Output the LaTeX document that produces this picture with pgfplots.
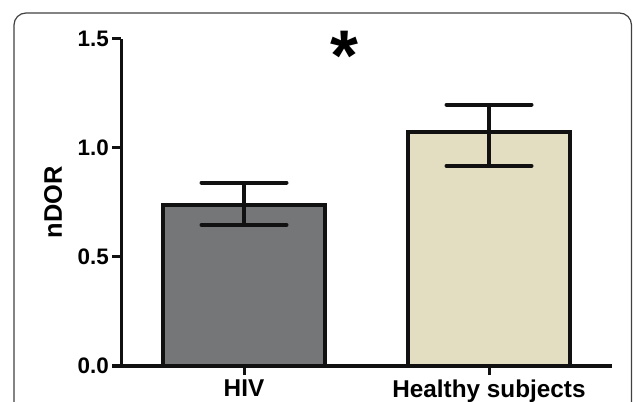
\documentclass[border=0pt]{standalone}
\usepackage{fontspec}
\setmainfont{Liberation Sans}
\usepackage{pgfplots}
\pgfplotsset{compat=1.18}
\definecolor{hivgray}{HTML}{747677}
\definecolor{beige}{HTML}{E3DEC1}
\definecolor{edge}{HTML}{111111}
\begin{document}
\begin{tikzpicture}
\useasboundingbox (0,0) rectangle (633bp,402bp);
\begin{scope}
\clip (0,0) rectangle (633bp,402bp);
\draw[rounded corners=12bp, black!75, line width=1.2bp] (14bp,-30bp) rectangle (631.5bp,389bp);
\end{scope}
\begin{axis}[
  at={(244bp,36bp)}, anchor=origin,
  x=245bp, y=218.3bp,
  xmin=-0.502, xmax=1.502, ymin=0, ymax=1.5,
  axis x line*=bottom, axis y line*=left,
  axis line style={line width=3bp, edge, -},
  xtick={0,1}, xticklabels={HIV,Healthy subjects},
  ytick={0,0.5,1,1.5},
  /pgf/number format/fixed, /pgf/number format/fixed zerofill, /pgf/number format/precision=1,
  /pgf/number format/assume math mode=true,
  tick style={line width=3bp, edge},
  tick align=outside, major tick length=9bp,
  yticklabel style={font=\fontsize{22.5}{26}\selectfont\bfseries, inner sep=1bp, xshift=-2bp},
  xticklabel style={font=\fontsize{24.4}{28}\selectfont\bfseries, inner sep=1bp, yshift=-3.5bp},
  ylabel={nDOR},
  ylabel style={font=\fontsize{25.5}{29}\selectfont\bfseries, at={(axis description cs:-0.1385,0.5)}, anchor=center},
  ybar, bar width=162bp,
  clip=false,
]
\addplot[bar shift=0pt, fill=hivgray, draw=edge, line width=3.5bp,
  error bars/.cd, y dir=both, y explicit,
  error bar style={line width=3.5bp, edge},
  error mark options={rotate=90, mark size=42.5bp, line width=4bp, line cap=round, edge}]
  coordinates {(0,0.738) += (0,0.102) -= (0,0.091)};
\addplot[bar shift=0pt, fill=beige, draw=edge, line width=3.5bp,
  error bars/.cd, y dir=both, y explicit,
  error bar style={line width=3.5bp, edge},
  error mark options={rotate=90, mark size=42.5bp, line width=4bp, line cap=round, edge}]
  coordinates {(1,1.073) += (0,0.124) -= (0,0.156)};
\node[font=\fontsize{72}{76}\selectfont\bfseries, inner sep=0pt] at (axis cs:0.412,1.42) {*};
\end{axis}
\end{tikzpicture}
\end{document}
